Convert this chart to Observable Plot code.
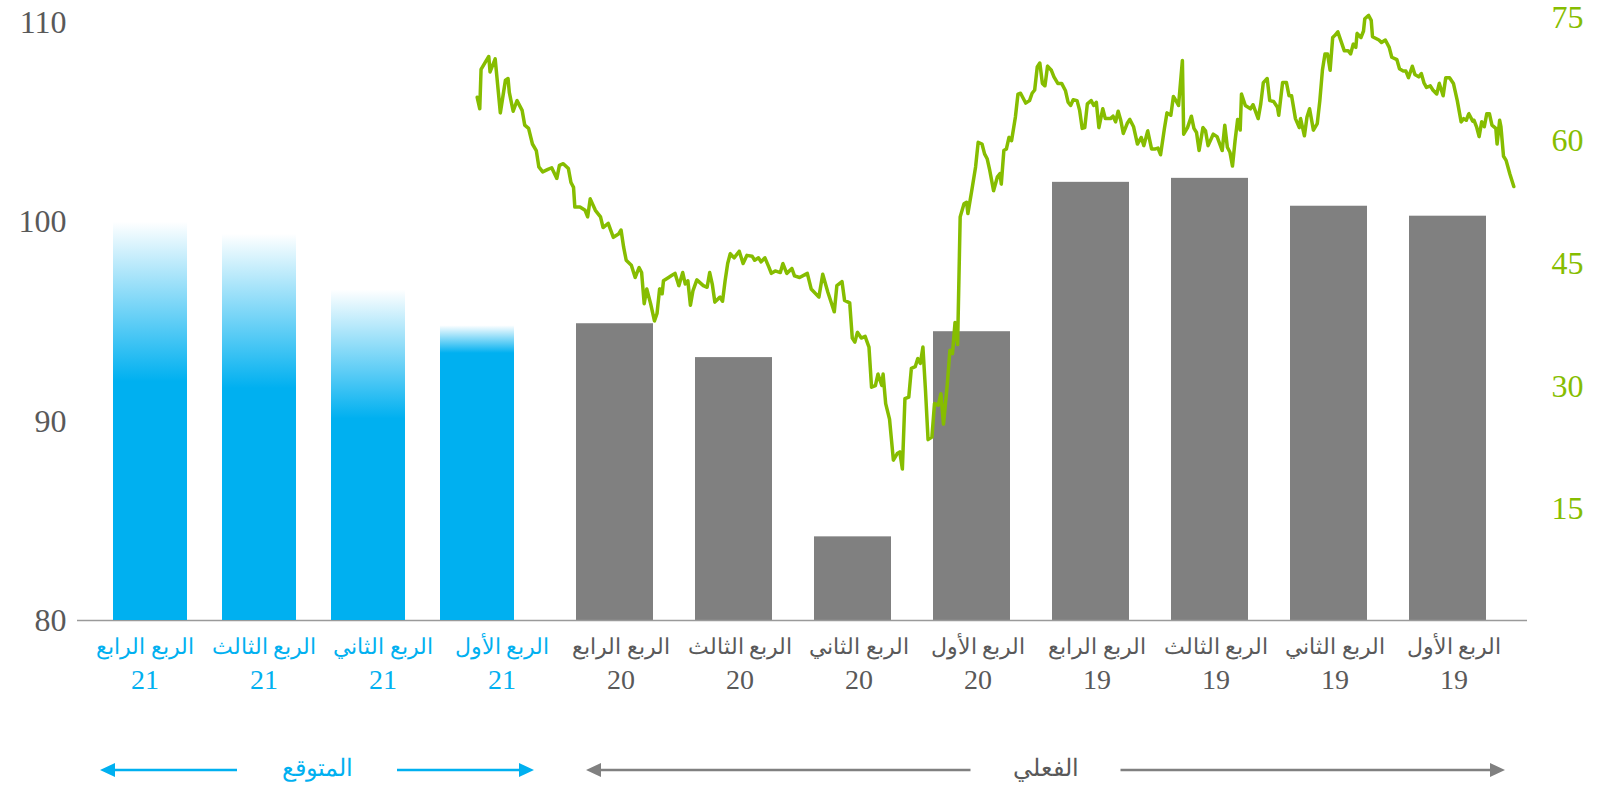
<!DOCTYPE html>
<html><head><meta charset="utf-8">
<script src="https://cdn.jsdelivr.net/npm/d3@7"></script>
<script src="https://cdn.jsdelivr.net/npm/@observablehq/plot@0.6"></script>
<style>
html,body{margin:0;padding:0;background:#fff;}
#chart{position:relative;width:1605px;height:789px;overflow:hidden;}
#chart svg{position:absolute;left:0;top:0;}
</style></head><body><div id="chart"></div>
<script>
// ---- data ----
const quarterNames = ["الربع الرابع","الربع الثالث","الربع الثاني","الربع الأول","الربع الرابع","الربع الثالث","الربع الثاني","الربع الأول","الربع الرابع","الربع الثالث","الربع الثاني","الربع الأول"];
const yearLabels = ["21","21","21","21","20","20","20","20","19","19","19","19"];
const barValues = [100.0, 99.4, 96.6, 94.8, 94.9, 93.2, 84.2, 94.5, 102.0, 102.2, 100.8, 100.3];
const barKind = ["forecast","forecast","forecast","forecast","actual","actual","actual","actual","actual","actual","actual","actual"];
const groupNames = {forecast: "المتوقع", actual: "الفعلي"};
const leftTicks = [80, 90, 100, 110];
const rightTicks = [15, 30, 45, 60, 75];
// oil price line: days since 1 Jan 2019, price
const oilDays = [0,3,6,8,10,11,13,14,17,19,21,23,25,27,29,31,32,35,37,39,41,44,47,50,53,55,58,60,63,65,68,70,72,74,77,79,82,84,86,89,91,95,97,100,103,105,110,111,113,116,117,119,122,123,125,127,129,132,137,139,141,143,145,147,149,151,153,156,159,161,163,166,167,170,173,175,177,180,183,184,187,190,192,195,197,199,203,205,209,212,213,215,217,219,221,223,225,227,231,234,238,240,242,245,247,249,251,254,257,258,261,263,265,267,270,272,275,277,279,282,285,288,290,293,296,299,301,304,306,308,310,312,314,318,320,323,325,327,329,332,334,336,338,340,343,345,347,349,352,355,358,360,363,365,367,369,371,373,375,377,380,384,386,388,391,393,395,397,399,400,402,405,408,410,412,414,417,419,422,425,426,428,431,433,435,437,439,441,444,446,448,451,453,456,458,460,462,464,466,469,471,474,476,478,480,483,486,489,491,492,495,497,500,502,505,508,511,513,515,517,521,523,527,529,534,538,541,547,550,556,560,562,566,569,571,575,578,580,583,586,588,591,593,597,600,603,607,610,612,614,616,618,622,624,626,628,631,636,639,641,643,645,647,650,653,656,658,662,663,665,667,669,672,675,677,679,681,684,687,691,693,695,697,701,705,709,711,715,719,721,723,727,731,732,734,736,740,743,745,749,752,756,759,761,764,767,770,772,776,779,782,783,785,789,793,797,798,804,805,807];
const oilPrices = [54.4,55.9,57.6,58.1,61.7,62.5,59.6,61.5,61.9,63.3,63.3,61.7,62.3,60.5,61.7,62.5,62.4,63.3,62.5,62.7,62.3,64.9,67.0,67.7,67.7,65.5,67.0,65.7,66.2,66.7,66.5,67.1,68.2,67.8,68.1,69.1,67.7,68.5,68.5,68.8,69.9,70.2,71.4,72.3,72.0,72.3,72.7,74.7,75.3,74.9,73.4,72.6,73.1,71.4,71.8,70.6,71.0,71.0,73.3,72.9,72.6,68.6,70.6,70.6,68.6,64.9,62.1,61.3,63.9,62.9,60.6,62.7,61.6,62.7,65.5,65.5,67.1,67.1,63.1,64.1,64.8,64.9,67.6,67.1,64.5,62.7,64.4,63.9,64.3,65.7,61.3,62.6,60.0,56.9,58.6,59.2,61.9,58.8,60.5,60.8,59.4,61.2,61.6,58.8,61.0,61.5,63.0,61.6,60.8,69.8,64.3,64.9,65.4,63.1,63.4,61.5,58.3,59.1,59.0,59.0,61.2,59.4,60.4,59.6,61.7,62.6,62.1,60.9,62.5,63.6,62.3,63.0,62.7,62.7,63.9,61.6,64.7,64.3,64.9,64.5,61.6,61.5,63.7,64.9,65.0,64.3,64.7,66.1,67.0,67.0,67.8,68.6,69.1,66.7,67.0,69.5,69.0,66.2,65.8,64.9,64.6,65.8,65.7,62.9,60.0,60.4,59.0,58.8,54.7,56.0,55.6,53.9,56.4,57.8,58.4,59.6,59.8,56.8,53.9,51.1,52.5,52.3,50.7,35.1,37.8,34.0,34.4,30.3,25.4,29.1,27.7,27.9,23.8,23.5,29.5,34.8,32.8,33.4,32.4,32.2,28.7,28.5,19.9,22.0,21.8,21.0,26.0,27.9,31.5,30.1,31.5,30.1,29.9,34.8,36.1,35.9,36.6,35.4,35.9,40.2,40.5,42.8,42.3,39.1,41.5,43.7,40.9,41.9,43.8,43.3,43.5,44.4,43.8,45.0,43.9,44.1,43.8,44.6,45.7,45.2,45.7,45.4,45.9,46.0,45.0,46.5,45.7,46.2,45.0,42.9,40.4,40.9,40.3,42.5,43.9,42.1,42.3,43.0,41.7,39.9,42.9,42.5,43.9,42.3,43.8,43.5,43.3,42.9,41.3,41.9,38.9,38.0,40.1,41.9,40.1,43.9,44.5,43.3,44.8,45.4,47.0,49.1,48.6,48.2,49.9,49.4,50.7,51.5,52.9,50.7,51.5,51.9,51.9,54.3,54.9,56.6,57.2,57.0,55.4,56.7,56.5,56.2,56.8,58.8,59.6,61.5,61.9,63.7,64.9,63.6,65.9,67.6,67.4,63.4,70.0,68.4,70.3,68.7,63.9,65.3];

// ---- derived tables ----
const bars = quarterNames.map((q, i) => ({key: q + " " + yearLabels[i], quarter: q, year: yearLabels[i], value: barValues[i], kind: barKind[i], i}));
const keys = bars.map(d => d.key);
const forecastBars = bars.filter(d => d.kind === "forecast");
const actualBars = bars.filter(d => d.kind === "actual");
const oil = oilDays.map((d, i) => ({day: d, price: oilPrices[i]}));

// ---- styles ----
const BLUE = "#00b0f0", GRAY = "#808080", TEXT_GRAY = "#595959", GREEN = "#86bd00";
const fadeShare = [0.40, 0.40, 0.39, 0.094];
const arrowShift = {forecast: [0, 0], actual: [10, 19]};
const W = 1605, H = 789;
const frame = {marginTop: 22.5, marginBottom: 169, marginLeft: 77, marginRight: 78};
const serif = "'Liberation Serif', 'Times New Roman', serif";
const yDomain = [leftTicks[0], leftTicks[leftTicks.length - 1]];

function gradients() {
  const defs = d3.create("svg:defs");
  forecastBars.forEach((d, j) => {
    const g = defs.append("linearGradient").attr("id", "fade-" + d.i)
      .attr("x1", 0).attr("y1", 0).attr("x2", 0).attr("y2", 1);
    g.append("stop").attr("offset", 0).attr("stop-color", BLUE).attr("stop-opacity", 0);
    g.append("stop").attr("offset", fadeShare[j]).attr("stop-color", BLUE).attr("stop-opacity", 1);
    g.append("stop").attr("offset", 1).attr("stop-color", BLUE).attr("stop-opacity", 1);
  });
  return defs.node();
}

function groupArrows(index, scales, values, dims) {
  const x = scales.x;
  const bw = x.bandwidth ? x.bandwidth() : 0;
  const y = dims.height - dims.marginBottom + 150;
  const g = d3.create("svg:g");
  for (const kind of ["forecast", "actual"]) {
    const ks = bars.filter(d => d.kind === kind).map(d => d.key);
    const left = x(ks[0]) + arrowShift[kind][0], right = x(ks[ks.length - 1]) + bw + arrowShift[kind][1];
    const mid = (left + right) / 2;
    const color = kind === "forecast" ? BLUE : GRAY;
    const gap = kind === "forecast" ? 80 : 75, head = 15, half = 7;
    g.append("line").attr("x1", mid - gap).attr("x2", left + head - 1).attr("y1", y).attr("y2", y)
      .attr("stroke", color).attr("stroke-width", 2.5);
    g.append("line").attr("x1", mid + gap).attr("x2", right - head + 1).attr("y1", y).attr("y2", y)
      .attr("stroke", color).attr("stroke-width", 2.5);
    g.append("polygon").attr("points", `${left},${y} ${left + head},${y - half} ${left + head},${y + half}`).attr("fill", color);
    g.append("polygon").attr("points", `${right},${y} ${right - head},${y - half} ${right - head},${y + half}`).attr("fill", color);
    g.append("text").attr("x", mid).attr("y", y).attr("dy", "0.25em").attr("text-anchor", "middle")
      .attr("fill", kind === "forecast" ? BLUE : TEXT_GRAY).attr("font-size", 24).attr("font-family", serif)
      .text(groupNames[kind]);
  }
  return g.node();
}

const labelFill = d => d.kind === "forecast" ? BLUE : TEXT_GRAY;

// main plot: axis, actual bars, baseline, labels, group arrows
const plotMain = Plot.plot({
  width: W, height: H, ...frame,
  style: {background: "transparent", fontFamily: serif, fontSize: "32px", color: TEXT_GRAY},
  x: {domain: keys, range: [56.2, 1530.2], padding: 0.355, axis: null},
  y: {domain: yDomain, ticks: leftTicks, tickSize: 0, tickPadding: 11, label: null, axis: "left"},
  color: {type: "identity"},
  marks: [
    Plot.barY(actualBars, {x: "key", y1: yDomain[0], y2: "value", fill: GRAY}),
    Plot.ruleY([yDomain[0]], {stroke: "#9a9a9a", strokeWidth: 1.5}),
    Plot.text(bars, {x: "key", text: "quarter", frameAnchor: "bottom", dy: 33, dx: 6, fill: labelFill, fontSize: 22, fontFamily: serif}),
    Plot.text(bars, {x: "key", text: "year", frameAnchor: "bottom", dy: 68, dx: 6, fill: labelFill, fontSize: 28, fontFamily: serif}),
    groupArrows
  ]
});

// forecast bars (own band layout, slightly tighter spacing)
const plotForecast = Plot.plot({
  width: W, height: H, ...frame,
  style: {background: "transparent"},
  x: {domain: forecastBars.map(d => d.key), range: [76.9, 550.4], padding: 0.324, axis: null},
  y: {domain: yDomain, axis: null},
  color: {type: "identity"},
  marks: [
    gradients,
    Plot.barY(forecastBars, {x: "key", y1: yDomain[0], y2: "value", fill: d => "url(#fade-" + d.i + ")"})
  ]
});

// oil price line on the right axis
const plotLine = Plot.plot({
  width: W, height: H, ...frame,
  style: {background: "transparent", fontFamily: serif, fontSize: "32px", color: GREEN},
  x: {domain: [d3.min(oilDays), d3.max(oilDays)], range: [476.7, 1513.3], reverse: true, axis: null},
  y: {domain: [rightTicks[0], rightTicks[rightTicks.length - 1]], range: [508.7, 17.4], ticks: rightTicks, tickSize: 0, tickPadding: 24, label: null, axis: "right"},
  marks: [
    Plot.line(oil, {x: "day", y: "price", stroke: GREEN, strokeWidth: 3.5, strokeLinejoin: "round"})
  ]
});

const chart = document.getElementById("chart");
chart.appendChild(plotMain);
chart.appendChild(plotForecast);
chart.appendChild(plotLine);
</script></body></html>
